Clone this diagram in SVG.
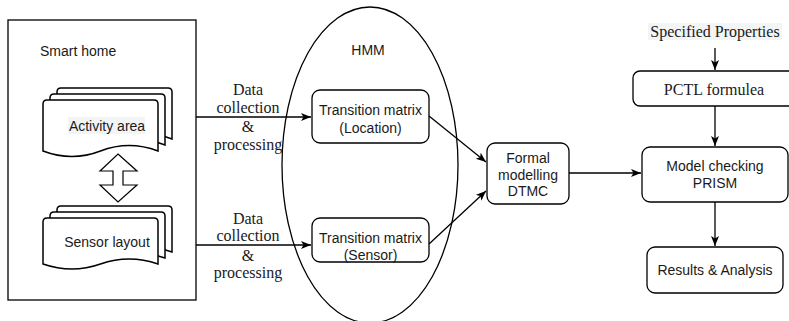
<svg xmlns="http://www.w3.org/2000/svg" width="789" height="321" viewBox="0 0 789 321">
<style>
.box{fill:#fff;stroke:#000;stroke-width:1.3}
.doc{fill:#fff;stroke:#000;stroke-width:1.5}
.edge{fill:none;stroke:#000;stroke-width:1.3}
.sans{font-family:"Liberation Sans",Arial,sans-serif;font-size:14px;fill:#1a1a1a}
.serif{font-family:"Liberation Serif","Times New Roman",serif;font-size:16px;fill:#1a1a1a}
.lbg{fill:#f3f4f6}
</style>
<defs>
<marker id="arr" markerWidth="11" markerHeight="10" refX="10" refY="4" orient="auto" markerUnits="userSpaceOnUse">
<path d="M0,0 L10,4 L0,8 L2.5,4 z" fill="#000"/>
</marker>
<path id="docA" d="M4,0 H111 Q115,0 115,4 V51 Q86,40 57.5,51 Q29,62 0,51 V4 Q0,0 4,0 Z"/>
<path id="docB" d="M4,0 H111 Q115,0 115,4 V46 Q86,36 57.5,46 Q29,56 0,46 V4 Q0,0 4,0 Z"/>
</defs>

<g id="smart-home">
<rect class="box" x="8" y="20" width="188" height="280" fill="#fff"/>
<text class="sans" x="40" y="56">Smart home</text>
</g>

<g id="activity-area">
<use href="#docA" class="doc" x="57" y="88"/>
<use href="#docA" class="doc" x="50" y="94"/>
<use href="#docA" class="doc" x="43" y="100"/>
<rect class="lbg" x="68" y="117" width="77" height="17"/>
<text class="sans" x="107" y="131" text-anchor="middle">Activity area</text>
</g>

<g id="sensor-layout">
<use href="#docB" class="doc" x="57" y="206"/>
<use href="#docB" class="doc" x="50" y="212"/>
<use href="#docB" class="doc" x="43" y="218"/>
<text class="sans" x="107" y="247" text-anchor="middle">Sensor layout</text>
</g>

<g id="double-arrow">
<path d="M118,154 L137,171 L123,171 L123,185 L137,185 L118,202 L100,185 L113,185 L113,171 L100,171 Z" fill="#fff" stroke="#000" stroke-width="1.2"/>
</g>

<g id="hmm">
<ellipse cx="370" cy="165" rx="88" ry="158" fill="none" stroke="#000" stroke-width="1.3"/>
<text class="sans" x="368" y="55" text-anchor="middle">HMM</text>
</g>

<g id="tm-location">
<rect class="box" x="312" y="90" width="117" height="53" rx="8"/>
<text class="sans" x="370.5" y="115" text-anchor="middle">Transition matrix</text>
<text class="sans" x="370.5" y="133" text-anchor="middle">(Location)</text>
</g>

<g id="tm-sensor">
<rect class="box" x="312" y="218" width="117" height="44" rx="8"/>
<text class="sans" x="370.5" y="243" text-anchor="middle">Transition matrix</text>
<text class="sans" x="370.5" y="260" text-anchor="middle">(Sensor)</text>
</g>

<g id="formal">
<rect class="box" x="487" y="143" width="82" height="61" rx="8"/>
<text class="sans" x="528" y="163" text-anchor="middle">Formal</text>
<text class="sans" x="528" y="180" text-anchor="middle">modelling</text>
<text class="sans" x="528" y="196" text-anchor="middle">DTMC</text>
</g>

<g id="specified">
<rect class="lbg" x="648" y="23" width="134" height="17"/>
<text class="serif" x="715" y="36.5" text-anchor="middle">Specified Properties</text>
</g>

<g id="pctl">
<rect class="box" x="633" y="71" width="170" height="35" rx="7"/>
<text class="serif" x="714" y="94.5" text-anchor="middle">PCTL formulea</text>
</g>

<g id="model-checking">
<rect class="box" x="642" y="147" width="146" height="55" rx="8"/>
<text class="sans" x="715" y="171" text-anchor="middle">Model checking</text>
<text class="sans" x="715" y="188" text-anchor="middle">PRISM</text>
</g>

<g id="results">
<rect class="box" x="647" y="247" width="136" height="46" rx="8"/>
<text class="sans" x="715" y="275" text-anchor="middle">Results &amp; Analysis</text>
</g>

<g id="connectors">
<line class="edge" x1="196" y1="117" x2="311" y2="117" marker-end="url(#arr)"/>
<line class="edge" x1="196" y1="245" x2="311" y2="245" marker-end="url(#arr)"/>
<line class="edge" x1="429" y1="116" x2="486" y2="162" marker-end="url(#arr)"/>
<line class="edge" x1="429" y1="244" x2="486" y2="191" marker-end="url(#arr)"/>
<line class="edge" x1="569" y1="173" x2="641" y2="173" marker-end="url(#arr)"/>
<line class="edge" x1="715" y1="48" x2="715" y2="70" marker-end="url(#arr)"/>
<line class="edge" x1="715" y1="106" x2="715" y2="146" marker-end="url(#arr)"/>
<line class="edge" x1="715" y1="202" x2="715" y2="246" marker-end="url(#arr)"/>
<g class="serif" text-anchor="middle">
<text x="248" y="94.5">Data</text>
<text x="248" y="112.5">collection</text>
<text x="248" y="132">&amp;</text>
<text x="248" y="150">processing</text>
<text x="248" y="223.5">Data</text>
<text x="248" y="240.5">collection</text>
<text x="248" y="260.5">&amp;</text>
<text x="248" y="278">processing</text>
</g>
</g>
</svg>
